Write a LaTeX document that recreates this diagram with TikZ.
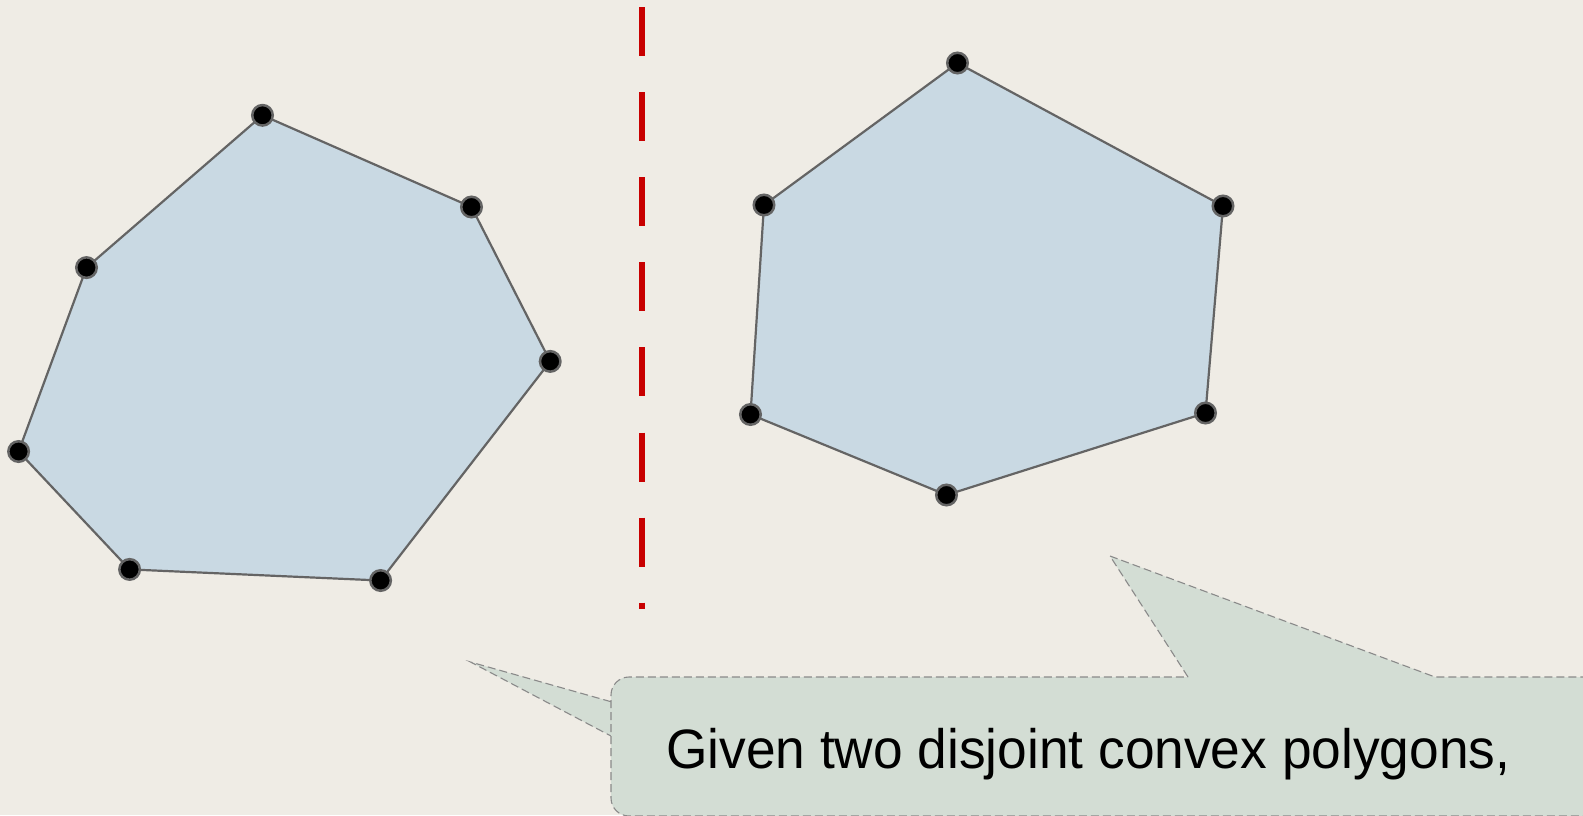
\documentclass[tikz,border=0pt]{standalone}
\usepackage{fontspec}
\setmainfont{Liberation Sans}
\definecolor{paper}{HTML}{EFECE5}
\definecolor{polyfill}{HTML}{C9D9E3}
\definecolor{edgegray}{HTML}{646464}
\definecolor{notefill}{HTML}{D3DDD4}
\definecolor{noteline}{HTML}{8A8A8A}
\definecolor{splitred}{HTML}{C80000}
\tikzset{
  polyshape/.style={fill=polyfill, draw=edgegray, line width=2.2pt, line join=round},
  vertexdot/.style={circle, fill=black, draw=edgegray, line width=2.5pt, minimum size=20.5pt, inner sep=0pt},
  separator/.style={draw=splitred, line width=6pt, dash pattern=on 49pt off 36.1pt},
  notebox/.style={fill=notefill, draw=noteline, line width=1.1pt, dash pattern=on 8pt off 4pt},
  notetext/.style={font=\fontsize{55.5}{62}\selectfont, text=black, inner sep=0pt,
    anchor=base west, xscale=0.96, transform shape}
}
\begin{document}
\begin{tikzpicture}[x=1pt, y=-1pt]
  % canvas
  \fill[paper] (0,0) rectangle (1583,815);
  \useasboundingbox (0,0) rectangle (1583,815);

  % separating line
  \coordinate (sepTop) at (642,7);
  \coordinate (sepBot) at (642,609);
  \draw[separator] (sepTop) -- (sepBot);

  % left polygon (seven vertices)
  \coordinate (a1) at (262.5,115.3);
  \coordinate (a2) at (471.5,207);
  \coordinate (a3) at (550.2,361.4);
  \coordinate (a4) at (380.6,580.5);
  \coordinate (a5) at (129.6,569.4);
  \coordinate (a6) at (18.6,451.5);
  \coordinate (a7) at (86.5,267.6);
  \path[polyshape] (a1) -- (a2) -- (a3) -- (a4) -- (a5) -- (a6) -- (a7) -- cycle;
  \foreach \v in {a1,a2,a3,a4,a5,a6,a7}
    \node[vertexdot] (dot-\v) at (\v) {};

  % right polygon (six vertices)
  \coordinate (b1) at (957.5,63);
  \coordinate (b2) at (1223,206);
  \coordinate (b3) at (1205.5,413);
  \coordinate (b4) at (946.5,495);
  \coordinate (b5) at (750.5,414.5);
  \coordinate (b6) at (764,205);
  \path[polyshape] (b1) -- (b2) -- (b3) -- (b4) -- (b5) -- (b6) -- cycle;
  \foreach \v in {b1,b2,b3,b4,b5,b6}
    \node[vertexdot] (dot-\v) at (\v) {};

  % speech bubble: pointer towards the left polygon
  \coordinate (tipL) at (470.5,662);
  \coordinate (baseL1) at (611,701.7);
  \coordinate (baseL2) at (611,736);
  \fill[notefill] (tipL) -- (baseL1) -- (baseL2) -- cycle;
  \draw[notebox, fill=none] (baseL1) -- (tipL) -- (baseL2);

  % speech bubble: body with pointer towards the right polygon
  \coordinate (baseR1) at (1188,677);
  \coordinate (tipR) at (1110,556);
  \coordinate (baseR2) at (1435,677);
  \path[notebox] (baseR1) -- (tipR) -- (baseR2) -- (1600,677) -- (1600,816)
    -- (629,816) arc[start angle=90, end angle=180, radius=18]
    -- (611,695) arc[start angle=180, end angle=270, radius=18]
    -- cycle;

  \node[notetext] (caption) at (666,768) {Given two disjoint convex polygons,};
\end{tikzpicture}
\end{document}
